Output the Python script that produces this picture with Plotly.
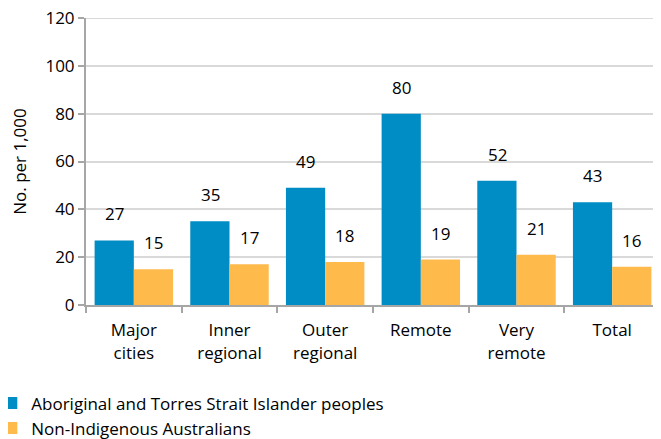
import plotly.graph_objects as go

categories = ["Major<br>cities", "Inner<br>regional", "Outer<br>regional", "Remote", "Very<br>remote", "Total"]
aboriginal = [27, 35, 49, 80, 52, 43]
non_indigenous = [15, 17, 18, 19, 21, 16]
y_ticks = [0, 20, 40, 60, 80, 100, 120]

FONT = "Open Sans"
FS = 17
fig = go.Figure()
fig.add_trace(go.Bar(x=categories, y=aboriginal, name="Aboriginal and Torres Strait Islander peoples",
                     marker=dict(color="#008CC4", line=dict(width=0))))
fig.add_trace(go.Bar(x=categories, y=non_indigenous, name="Non-Indigenous Australians",
                     marker=dict(color="#FFBA4C", line=dict(width=0))))

for series, shift in ((aboriginal, -19.5), (non_indigenous, 19.5)):
    for c, v in zip(categories, series):
        fig.add_annotation(x=c, y=v, text=str(v), showarrow=False, xanchor="center", yanchor="bottom",
                           xshift=shift, yshift=13, font=dict(size=FS, color="#000000"))

# top gridline (plotly omits gridlines at the range edge)
fig.add_shape(type="line", xref="paper", yref="y", x0=0, x1=1, y0=y_ticks[-1], y1=y_ticks[-1],
              line=dict(color="#D9D9D9", width=2), layer="below")

fig.update_layout(
    width=653, height=431,
    margin=dict(l=78, r=1, t=10, b=134, autoexpand=False),
    paper_bgcolor="white", plot_bgcolor="white",
    font=dict(family=FONT, size=FS, color="#000000"),
    barmode="group", bargap=0.18, bargroupgap=0,
    showlegend=True,
    legend=dict(orientation="v", x=-0.165, y=-0.28,
                xanchor="left", yanchor="top", font=dict(size=FS), itemwidth=30,
                tracegroupgap=0, bgcolor="rgba(0,0,0,0)"),
    xaxis=dict(showline=True, linecolor="#A6A6A6", linewidth=2, ticks="outside", tickson="boundaries",
               ticklen=6, tickcolor="#A6A6A6", tickwidth=2, tickfont=dict(size=FS), tickangle=0,
               ticklabelstandoff=9, automargin=False),
    yaxis=dict(range=[0, 120], tickvals=y_ticks, showline=True, linecolor="#A6A6A6", linewidth=2,
               ticks="outside", ticklen=6, tickcolor="#A6A6A6", tickwidth=2, ticklabeloverflow="allow",
               showgrid=True, gridcolor="#D9D9D9", gridwidth=2, zeroline=False, automargin=False,
               title=dict(text="No. per 1,000", font=dict(size=FS), standoff=22),
               tickfont=dict(size=FS)),
)
fig.write_html("out.html")
